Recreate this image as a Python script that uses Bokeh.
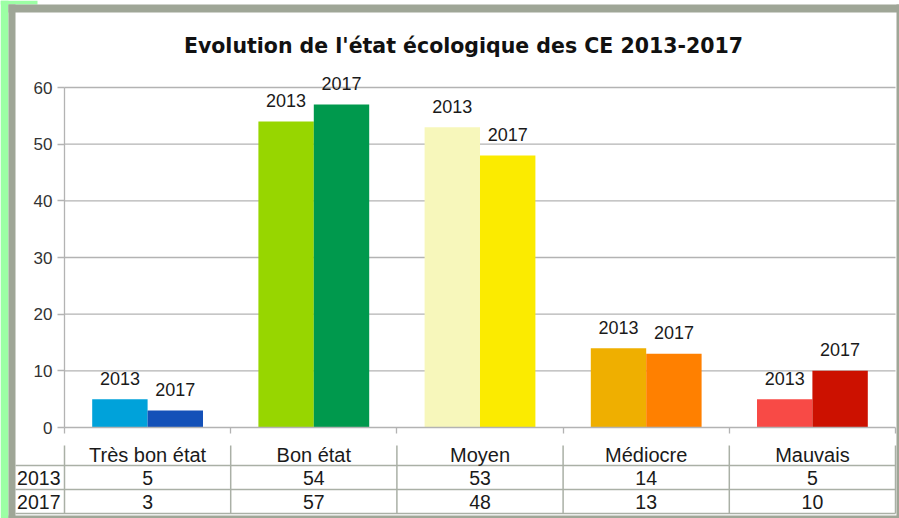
from bokeh.plotting import figure
from bokeh.models import ColumnDataSource, Range1d, LinearAxis, FixedTicker
from bokeh.core.properties import value
from bokeh.transform import dodge
from bokeh.embed import file_html
from bokeh.resources import INLINE

# ---------------- data ----------------
title_text = "Evolution de l'état écologique des CE 2013-2017"
categories = ["Très bon état", "Bon état", "Moyen", "Médiocre", "Mauvais"]
years = ["2013", "2017"]
values_2013 = [5, 54, 53, 14, 5]
values_2017 = [3, 57, 48, 13, 10]
colors_2013 = ["#00a2da", "#97d600", "#f7f7bb", "#efaf00", "#f84a46"]
colors_2017 = ["#1451b8", "#00994d", "#fbeb00", "#ff8000", "#cc1100"]
y_ticks = [0, 10, 20, 30, 40, 50, 60]

# ---------------- layout constants ----------------
W, H = 899, 518
FONT = "Liberation Sans"
GRID = "#b3b3b3"
TABLE_LINE = "#aab0a6"
BORDER = "#9fa697"
GREEN = "#9cffa4"
n = len(categories)
bar_w = 1 / 3

# screen placement of the plot area (pixels)
AX_X0, AX_X1 = 64, 895      # category boundaries -0.5 .. n-0.5
AX_Y0, AX_Y60 = 427, 87     # value 0 and value 60
ppx = (AX_X1 - AX_X0) / n
ppy = (AX_Y0 - AX_Y60) / 60


def dx(px):
    return -0.5 + (px - AX_X0) / ppx


def dy(py):
    return (AX_Y0 - py) / ppy


x_start, x_end = dx(0), dx(W)
y_start, y_end = dy(H), dy(0)
header_top = dy(445)
row_lines = [dy(465), dy(489), dy(513)]
row_centers = [dy(477), dy(501)]

src = ColumnDataSource(dict(
    x=list(range(n)),
    v2013=values_2013, v2017=values_2017,
    c2013=colors_2013, c2017=colors_2017,
    l2013=[years[0]] * n, l2017=[years[1]] * n,
    t2013=[str(v) for v in values_2013], t2017=[str(v) for v in values_2017],
))

p = figure(width=W, height=H, output_backend="svg", toolbar_location=None,
           title=None, x_axis_type=None, y_axis_type=None,
           x_range=Range1d(x_start, x_end), y_range=Range1d(y_start, y_end),
           min_border=0)
p.border_fill_color = "white"
p.background_fill_color = "white"
p.outline_line_color = None

# page decoration: green strip and grey frame of the chart
p.quad(left=[dx(0), dx(0)], right=[dx(8), dx(37)], top=[dy(0), dy(0)],
       bottom=[dy(H), dy(4)], fill_color=GREEN, line_color=None)
p.quad(left=[dx(8), dx(8), dx(896), dx(8)], right=[dx(15), dx(W), dx(W), dx(W)],
       top=[dy(4), dy(4), dy(4), dy(515)], bottom=[dy(H), dy(12), dy(H), dy(H)],
       fill_color=BORDER, line_color=None)

# horizontal grid lines (plot area only)
gy = y_ticks[1:]
p.segment(x0=[-0.5] * len(gy), x1=[n - 0.5] * len(gy), y0=gy, y1=gy,
          line_color=GRID, line_width=1.3)

# bars
p.vbar(x=dodge("x", -bar_w / 2), top="v2013", width=bar_w, bottom=0,
       fill_color="c2013", line_color=None, source=src)
p.vbar(x=dodge("x", bar_w / 2), top="v2017", width=bar_w, bottom=0,
       fill_color="c2017", line_color=None, source=src)

# data labels
for xo, col in ((-bar_w / 2, "2013"), (bar_w / 2, "2017")):
    p.text(x=dodge("x", xo), y="v" + col, text="l" + col, source=src,
           text_font=value(FONT), text_font_size="18px", text_color="#1a1a1a",
           text_align="center", text_baseline="alphabetic", y_offset=-21)

# y axis
yaxis = LinearAxis(fixed_location=-0.5, bounds=(0, 60),
                   ticker=FixedTicker(ticks=y_ticks, minor_ticks=[]),
                   axis_line_color=GRID, axis_line_width=1.3,
                   major_tick_line_color=GRID, major_tick_line_width=1.3,
                   major_tick_out=7, major_tick_in=0,
                   minor_tick_out=0, minor_tick_in=0,
                   major_label_standoff=5,
                   major_label_text_font=FONT, major_label_text_font_size="17px",
                   major_label_text_color="#333333")
p.add_layout(yaxis, "left")

# x axis (category names as header row of the table)
xaxis = LinearAxis(fixed_location=0, bounds=(-0.5, n - 0.5),
                   ticker=FixedTicker(ticks=list(range(n)),
                                      minor_ticks=[i - 0.5 for i in range(n + 1)]),
                   major_label_overrides={i: c for i, c in enumerate(categories)},
                   axis_line_color=GRID, axis_line_width=1.3,
                   major_tick_line_color=None, major_tick_out=0, major_tick_in=0,
                   minor_tick_line_color=GRID, minor_tick_line_width=1.3,
                   minor_tick_out=6, minor_tick_in=0,
                   major_label_standoff=10,
                   major_label_text_font=FONT, major_label_text_font_size="20px",
                   major_label_text_color="#1a1a1a")
p.add_layout(xaxis, "below")

# table lines
p.segment(x0=[dx(15)] * len(row_lines), x1=[n - 0.5] * len(row_lines),
          y0=row_lines, y1=row_lines, line_color=TABLE_LINE, line_width=1.5)
bx = [i - 0.5 for i in range(n + 1)]
p.segment(x0=bx, x1=bx, y0=[header_top] * len(bx), y1=[row_lines[-1]] * len(bx),
          line_color=TABLE_LINE, line_width=1.5)

# table row headers and values
p.text(x=[-0.5] * len(years), y=row_centers, text=years,
       text_font=value(FONT), text_font_size="19.5px", text_color="#1a1a1a",
       text_align="right", text_baseline="middle", x_offset=-4)
p.text(x="x", y=row_centers[0], text="t2013", source=src,
       text_font=value(FONT), text_font_size="19.5px", text_color="#1a1a1a",
       text_align="center", text_baseline="middle")
p.text(x="x", y=row_centers[1], text="t2017", source=src,
       text_font=value(FONT), text_font_size="19.5px", text_color="#1a1a1a",
       text_align="center", text_baseline="middle")

# title
p.text(x=[dx(463)], y=[dy(45)], text=[title_text],
       text_font=value("DejaVu Sans"), text_font_style="bold", text_font_size="20.5px",
       text_color="#111111", text_align="center", text_baseline="alphabetic")

open("out.html", "w").write(file_html(p, INLINE))
